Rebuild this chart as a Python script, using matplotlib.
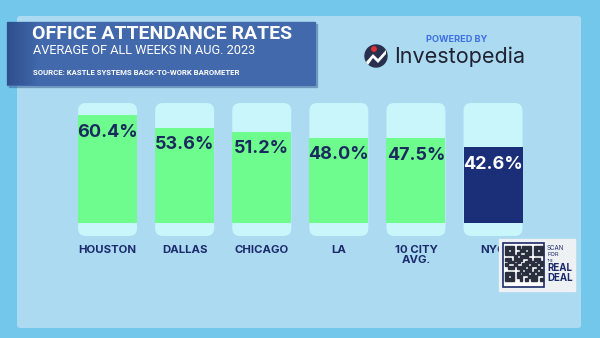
import matplotlib
matplotlib.use("Agg")
import matplotlib.pyplot as plt
from matplotlib.patches import Rectangle, FancyBboxPatch, Circle, Polygon
import numpy as np

plt.rcParams['font.family'] = ['Inter', 'DejaVu Sans']

categories = ["HOUSTON", "DALLAS", "CHICAGO", "LA", "10 CITY\nAVG.", "NYC"]
values = [60.4, 53.6, 51.2, 48.0, 47.5, 42.6]
highlight = "NYC"
title = "OFFICE ATTENDANCE RATES"
subtitle = "AVERAGE OF ALL WEEKS IN AUG. 2023"
source = "SOURCE: KASTLE SYSTEMS BACK-TO-WORK BAROMETER"

W, H = 600, 338
fig = plt.figure(figsize=(6, 3.38), dpi=100)

# background overlay in pixel coordinates
bg = fig.add_axes([0, 0, 1, 1], zorder=0)
bg.set_xlim(0, W); bg.set_ylim(H, 0); bg.axis('off')
bg.add_patch(Rectangle((0, 0), W, H, color='#72c7ea', zorder=0))
bg.add_patch(FancyBboxPatch((17, 16), 564, 312, boxstyle="round,pad=0,rounding_size=3",
                            fc='#acdaf1', ec='none', zorder=1))
# title box with shadow
bg.add_patch(Rectangle((9, 24), 308, 63, color='#2f4f86', alpha=0.35, zorder=2))
bg.add_patch(Rectangle((7, 22), 308, 63, color='#4169ac', zorder=3))
grad = np.linspace(0, 1, 50).reshape(1, -1)
bg.imshow(grad, extent=(7, 40, 85, 22), cmap=matplotlib.colors.LinearSegmentedColormap.from_list(
    'g', ['#2e4f8c', '#4169ac']), aspect='auto', zorder=4)
bg.set_xlim(0, W); bg.set_ylim(H, 0)
bg.text(32, 34, title, color='white', fontsize=14, fontweight='bold', family=['Roboto', 'DejaVu Sans'],
        va='center', ha='left', zorder=5)
bg.text(33, 51, subtitle, color='white', fontsize=9.2, family=['Roboto', 'DejaVu Sans'],
        va='center', ha='left', zorder=5)
bg.text(33, 72.5, source, color='white', fontsize=5.55, fontweight='bold', family=['Roboto', 'DejaVu Sans'],
        va='center', ha='left', zorder=5)

# Investopedia logo
bg.text(457, 40, "POWERED BY", color='#3f6fe0', fontsize=6.6, fontweight='bold', ha='center', va='center', zorder=5)
bg.text(394, 57, "Investopedia", color='#1f2230', fontsize=15.5, ha='left', va='center', zorder=5)
bg.add_patch(Circle((376, 56), 11, color='#28304d', zorder=5))
bg.add_patch(Polygon([(366, 62), (373, 54), (378, 59), (386, 50), (386, 54), (378, 63), (373, 58), (368, 65)],
                     closed=True, fc='white', ec='none', zorder=6))
bg.add_patch(Circle((374, 49), 2.2, color='#e0302f', zorder=6))

# bar axes
px_per_unit = 1.78
y0_px = 223
ylo, yhi = -10, 70
bottom_px = y0_px - ylo * px_per_unit
top_px = y0_px - yhi * px_per_unit
left_px, step = 69, 77.1
ax = fig.add_axes([left_px / W, (H - bottom_px) / H, 6 * step / W, (bottom_px - top_px) / H], zorder=1)
ax.patch.set_alpha(0)
ax.set_xlim(-0.5, 5.5)
ax.set_ylim(ylo, yhi)
for s in ax.spines.values():
    s.set_visible(False)
ax.set_yticks([])

bw = 0.765
cont_lo, cont_hi = -7.3, 67.4
x = np.arange(len(categories))
aspect = (step / px_per_unit)
for xi in x:
    ax.add_patch(FancyBboxPatch((xi - bw / 2, cont_lo), bw, cont_hi - cont_lo,
                                boxstyle="round,pad=0,rounding_size=0.1",
                                mutation_aspect=aspect, fc='#c9f6fb', ec='none', zorder=1))
colors = ['#1b2f78' if c == highlight else '#6dfc8d' for c in categories]
ax.bar(x, values, width=bw, color=colors, zorder=2)
for xi, v, c in zip(x, values, categories):
    ax.annotate(f"{v:.1f}%", (xi, v), xytext=(0, -12.3), textcoords='offset points',
                ha='center', va='center', fontsize=13, fontweight='bold',
                color='white' if c == highlight else '#1b2a5e', zorder=3)

ax.set_xticks(x)
ax.set_xticklabels(categories, fontsize=8.2, fontweight='bold', color='#1b2a6b', linespacing=1.05)
ax.tick_params(axis='x', length=0, pad=3)

# QR overlay
top = fig.add_axes([0, 0, 1, 1], zorder=2)
top.set_xlim(0, W); top.set_ylim(H, 0); top.axis('off')
top.add_patch(Rectangle((499, 239), 76, 52, color='#eef1f3', zorder=1))
top.add_patch(Rectangle((503, 243), 41, 44, fc='white', ec='#1b2a6b', lw=1.2, zorder=2))
qr = ["1110101110111",
      "1010011010101",
      "1110100110111",
      "0001011100000",
      "1101110010110",
      "0110100111011",
      "1001001101101",
      "0110111010010",
      "0000010110101",
      "1110101101011",
      "1010110011100",
      "1110010101101"]
cell = 2.9
for r, row in enumerate(qr):
    for cc, ch in enumerate(row):
        if ch == '1':
            top.add_patch(Rectangle((505 + cc * cell, 246 + r * cell), cell, cell, color='#2a2f40', zorder=3))
top.text(547, 248, "SCAN", color='#1b2a6b', fontsize=4.4, ha='left', va='center', zorder=4)
top.text(547, 255, "FOR", color='#1b2a6b', fontsize=4.2, ha='left', va='center', zorder=4)
top.text(547, 260.5, "THE", color='#1b2a6b', fontsize=2.5, ha='left', va='center', zorder=4)
top.text(547, 268, "REAL", color='#1b2a6b', fontsize=7, fontweight='bold', ha='left', va='center', zorder=4)
top.text(547, 278, "DEAL", color='#1b2a6b', fontsize=7, fontweight='bold', ha='left', va='center', zorder=4)

fig.savefig("out.png", dpi=100)
